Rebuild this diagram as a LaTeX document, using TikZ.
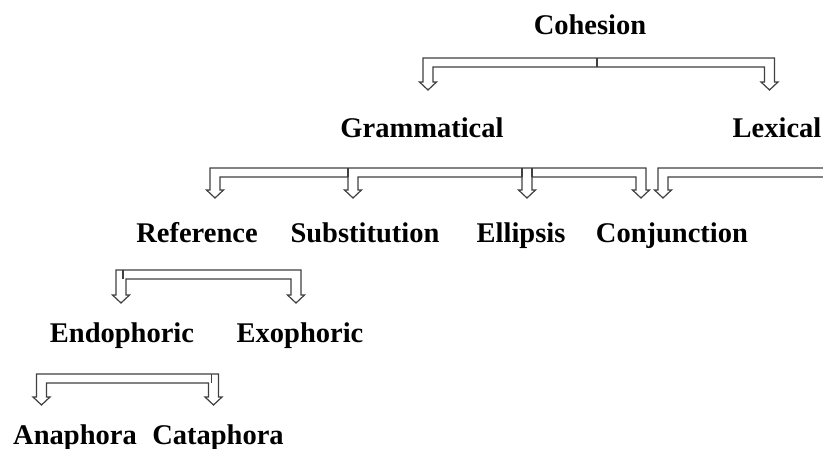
\documentclass[tikz,border=0pt]{standalone}
\usepackage{fontspec}
\setmainfont{Liberation Serif}
\usetikzlibrary{calc,positioning}
\tikzstyle{term} = [font=\fontsize{28.5}{30}\selectfont\bfseries, anchor=base, inner sep=0pt]
\tikzstyle{branch} = [draw=black!75, line width=1.2pt, line join=miter, fill=white]
\tikzstyle{tick} = [draw=black!75, line width=1.2pt]

% hollow bracket: top line, left tip, right tip
\newcommand{\branch}[3]{%
    \draw[branch] ($(#2|-#1)+(5,9)$) -- ($(#2)+(5,-8)$) -- ($(#2)+(8.5,-8)$) -- (#2)
        -- ($(#2)+(-8.5,-8)$) -- ($(#2)+(-5,-8)$) -- ($(#2|-#1)+(-5,0)$)
        -- ($(#3|-#1)+(5,0)$) -- ($(#3)+(5,-8)$) -- ($(#3)+(8.5,-8)$) -- (#3)
        -- ($(#3)+(-8.5,-8)$) -- ($(#3)+(-5,-8)$) -- ($(#3|-#1)+(-5,9)$) -- cycle;}
% same, with middle tips (right to left)
\newcommand{\branchmany}[4]{%
    \draw[branch] ($(#2|-#1)+(5,9)$) -- ($(#2)+(5,-8)$) -- ($(#2)+(8.5,-8)$) -- (#2)
        -- ($(#2)+(-8.5,-8)$) -- ($(#2)+(-5,-8)$) -- ($(#2|-#1)+(-5,0)$)
        -- ($(#3|-#1)+(5,0)$) -- ($(#3)+(5,-8)$) -- ($(#3)+(8.5,-8)$) -- (#3)
        -- ($(#3)+(-8.5,-8)$) -- ($(#3)+(-5,-8)$) -- ($(#3|-#1)+(-5,9)$)
        \foreach \m in {#4} { -- ($(\m|-#1)+(5,9)$) -- ($(\m)+(5,-8)$) -- ($(\m)+(8.5,-8)$) -- (\m)
        -- ($(\m)+(-8.5,-8)$) -- ($(\m)+(-5,-8)$) -- ($(\m|-#1)+(-5,9)$) }
        -- cycle;}

\begin{document}
\begin{tikzpicture}[x=1pt, y=-1pt]
        \useasboundingbox (0,0) rectangle (823,448);
        \clip (0,0) rectangle (823,448);

        \node[term] (cohesion) at (590,34) {Cohesion};
        \node[term] (grammatical) at (422,137) {Grammatical};
        \node[term] (lexical) at (777,137) {Lexical};
        \node[term] (reference) at (197,242) {Reference};
        \node[term] (substitution) at (365,242) {Substitution};
        \node[term] (ellipsis) at (521,242) {Ellipsis};
        \node[term] (conjunction) at (672,242) {Conjunction};
        \node[term] (endophoric) at (122,342) {Endophoric};
        \node[term] (exophoric) at (300,342) {Exophoric};
        \node[term] (anaphora) at (75,444) {Anaphora};
        \node[term] (cataphora) at (218,444) {Cataphora};

        \coordinate (ctop) at (0,58);
        \coordinate (gtop) at (0,168);
        \coordinate (rtop) at (0,270);
        \coordinate (etop) at (0,374);

        \coordinate (tipgram) at ($(grammatical.base)+(6,-47)$);
        \coordinate (tiplex) at ($(lexical.base)+(-7.5,-47)$);
        \coordinate (tipref) at ($(reference.base)+(18,-44)$);
        \coordinate (tipsubst) at ($(substitution.base)+(-12,-44)$);
        \coordinate (tipell) at ($(ellipsis.base)+(6,-44)$);
        \coordinate (tipconj) at ($(conjunction.base)+(-31,-44)$);
        \coordinate (tiplexa) at ($(lexical.base)+(-114,61)$);
        \coordinate (tiplexb) at ($(lexical.base)+(200,61)$);
        \coordinate (tipendo) at ($(endophoric.base)+(-1,-39)$);
        \coordinate (tipexo) at ($(exophoric.base)+(-4,-39)$);
        \coordinate (tipana) at ($(anaphora.base)+(-33.5,-39)$);
        \coordinate (tipcata) at ($(cataphora.base)+(-4.5,-39)$);

        \branch{ctop}{tipgram}{tiplex}
        \branchmany{gtop}{tipref}{tipconj}{tipell,tipsubst}
        \branch{gtop}{tiplexa}{tiplexb}
        \branch{rtop}{tipendo}{tipexo}
        \branch{etop}{tipana}{tipcata}

        \draw[tick] ($(cohesion.base|-ctop)+(7,0)$) -- +(0,9);
        \draw[tick] ($(tipsubst|-gtop)+(-5,0)$) -- +(0,9);
        \draw[tick] ($(tipell|-gtop)+(-5,0)$) -- +(0,9);
        \draw[tick] ($(tipell|-gtop)+(5,0)$) -- +(0,9);
        \draw[tick] ($(tipendo|-rtop)+(2,0)$) -- +(0,9);
        \draw[tick] ($(tipcata|-etop)+(-2,0)$) -- +(0,9);
\end{tikzpicture}
\end{document}
